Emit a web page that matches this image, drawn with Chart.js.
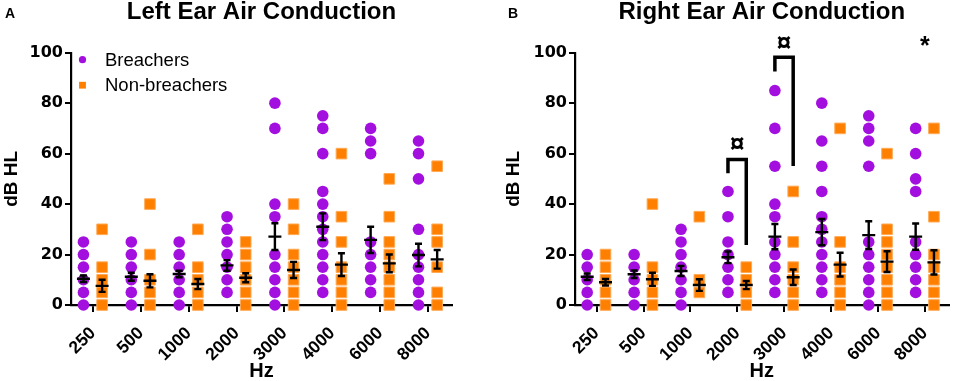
<!DOCTYPE html>
<html><head><meta charset="utf-8">
<script src="https://cdn.jsdelivr.net/npm/chart.js@4.4.1/dist/chart.umd.min.js"></script>
<style>
html,body{margin:0;padding:0;background:#fff;}
#wrap{position:relative;width:957px;height:381px;overflow:hidden;background:#fff;}
canvas{position:absolute;top:0;}
</style></head><body>
<div id="wrap">
<canvas id="cA" width="480" height="381" style="left:0px"></canvas>
<canvas id="cB" width="477" height="381" style="left:480px"></canvas>
</div>
<script>
// ---------- DATA ----------
const categories = ['250','500','1000','2000','3000','4000','6000','8000'];
const seriesNames = ['Breachers','Non-breachers'];
const panelTitles = ['Left Ear Air Conduction','Right Ear Air Conduction'];
const panelLetters = ['A','B'];
const yTicks = [0,20,40,60,80,100];

// Left ear - individual values (dB HL) per frequency
const leftBreachers = [
  [25,20,15,10,5,0],
  [25,20,15,10,5,0],
  [25,20,15,10,5,0],
  [35,30,25,20,15,10,5],
  [80,70,40,35,20,15,10,5,0],
  [75,70,60,45,40,35,30,25,20,15,10,5],
  [70,65,60,25,20,15,10,5],
  [65,60,50,30,20,15,10,5,0]
];
const leftBreachersMean = [10.4,11.2,12.3,15.7,27.1,31.0,25.8,19.8];
const leftBreachersSem  = [1.3,1.6,1.3,2.1,5.3,5.3,5.2,4.5];

const leftNonBreachers = [
  [30,15,10,5,0],
  [40,20,10,5,0],
  [30,15,10,5,0],
  [25,20,15,10,5,0],
  [40,30,20,15,10,5,0],
  [60,35,25,15,10,5,0],
  [50,35,25,20,15,10,5,0],
  [55,30,25,15,5,0]
];
const leftNonBreachersMean = [7.6,9.6,8.3,10.8,13.9,16.0,16.5,18.1];
const leftNonBreachersSem  = [2.4,2.6,2.0,1.8,3.2,4.5,3.5,3.7];

// Right ear
const rightBreachers = [
  [20,15,10,5,0],
  [20,15,10,5,0],
  [30,25,20,15,10,5,0],
  [45,35,25,20,15,10,5],
  [85,70,55,40,35,25,20,15,10,5],
  [80,65,55,45,35,30,25,20,15,10,5],
  [75,70,65,55,25,20,15,10,5,0],
  [70,60,50,45,25,20,15,10,5]
];
const rightBreachersMean = [11.2,12.2,13.5,18.9,27.1,28.9,27.7,27.1];
const rightBreachersSem  = [1.3,1.5,2.0,2.3,5.0,5.2,5.5,5.2];

const rightNonBreachers = [
  [20,15,10,5,0],
  [40,15,10,5,0],
  [35,10,5],
  [15,10,5,0],
  [45,25,15,10,5,0],
  [70,25,15,10,5,0],
  [60,30,25,20,15,10,5,0],
  [70,35,20,15,10,5,0]
];
const rightNonBreachersMean = [9.0,10.2,7.9,7.9,11.0,16.0,17.2,16.9];
const rightNonBreachersSem  = [1.3,2.6,2.3,1.6,3.1,4.7,4.1,4.8];

// Significance marks (right ear)
const sigCategory    = [3, 4, 7];
const sigSymbol      = ['¤','¤','*'];
const sigSymbolY     = [63.5, 103.5, 104];
const bracketTop     = [57.7, 98.2, null];
const bracketLeftEnd = [52.2, 92.5, null];
const bracketRightEnd= [23.8, 55.1, null];

// ---------- STYLE ----------
const PURPLE = '#A30FDF';
const ORANGE = '#FF7F00';
const ORANGE_EDGE = '#FFAA55';
const OFFSETS = [-0.2, 0.19];
const FONT = "'Liberation Sans', Arial, sans-serif";
const TICKFONT = "'DejaVu Sans', 'Liberation Sans', sans-serif";

function toPoints(groups, off) {
  const pts = [];
  groups.forEach((vals, i) => vals.forEach(v => pts.push({x: i + off, y: v})));
  return pts;
}

const errorBarPlugin = {
  id: 'errorBars',
  afterDatasetsDraw(chart) {
    const {ctx} = chart;
    const x = chart.scales.x, y = chart.scales.y;
    ctx.save();
    ctx.strokeStyle = '#000';
    ctx.lineWidth = 2.4;
    chart.data.datasets.forEach(ds => {
      ds.means.forEach((m, i) => {
        const px = x.getPixelForValue(i + ds.groupOffset);
        const pm = y.getPixelForValue(m);
        const pt = y.getPixelForValue(m + ds.sems[i]);
        const pb = y.getPixelForValue(m - ds.sems[i]);
        ctx.beginPath();
        ctx.moveTo(px, pt); ctx.lineTo(px, pb);
        ctx.moveTo(px - 6.5, pm); ctx.lineTo(px + 6.5, pm);
        ctx.moveTo(px - 3.5, pt); ctx.lineTo(px + 3.5, pt);
        ctx.moveTo(px - 3.5, pb); ctx.lineTo(px + 3.5, pb);
        ctx.stroke();
      });
    });
    ctx.restore();
  }
};

const extrasPlugin = {
  id: 'extras',
  afterDraw(chart, args, opts) {
    const {ctx, chartArea} = chart;
    const x = chart.scales.x, y = chart.scales.y;
    ctx.save();
    // panel letter
    ctx.fillStyle = '#000';
    ctx.font = 'bold 14px ' + FONT;
    ctx.textAlign = 'center';
    ctx.textBaseline = 'middle';
    ctx.fillText(opts.letter, opts.letterX, 14);
    // inner legend
    if (opts.legend) {
      chart.data.datasets.forEach((ds, i) => {
        const cy = chartArea.top + 7 + i * 25.5;
        const cx = chartArea.left + 11.5;
        ctx.fillStyle = ds.backgroundColor;
        ctx.beginPath();
        if (ds.pointStyle === 'circle') { ctx.arc(cx, cy, 3.6, 0, Math.PI * 2); }
        else { ctx.rect(cx - 3.4, cy - 3.4, 6.8, 6.8); }
        ctx.fill();
        ctx.fillStyle = '#000';
        ctx.font = '18.5px ' + FONT;
        ctx.textAlign = 'left';
        ctx.textBaseline = 'middle';
        ctx.fillText(ds.label, chartArea.left + 34, cy + 1);
      });
    }
    // significance brackets
    if (opts.sig) {
      ctx.strokeStyle = '#000';
      ctx.lineWidth = 3.5;
      ctx.lineJoin = 'miter';
      sigCategory.forEach((c, k) => {
        const xl = x.getPixelForValue(c + OFFSETS[0]);
        const xr = x.getPixelForValue(c + OFFSETS[1]);
        if (bracketTop[k] !== null) {
          ctx.beginPath();
          ctx.moveTo(xl, y.getPixelForValue(bracketLeftEnd[k]));
          ctx.lineTo(xl, y.getPixelForValue(bracketTop[k]));
          ctx.lineTo(xr, y.getPixelForValue(bracketTop[k]));
          ctx.lineTo(xr, y.getPixelForValue(bracketRightEnd[k]));
          ctx.stroke();
        }
        ctx.fillStyle = '#000';
        ctx.font = (sigSymbol[k] === '*' ? 'bold 25px ' : 'bold 26px ') + FONT;
        ctx.textAlign = 'center';
        ctx.textBaseline = 'middle';
        const dy = sigSymbol[k] === '*' ? 5 : 0;
        ctx.fillText(sigSymbol[k], (xl + xr) / 2, y.getPixelForValue(sigSymbolY[k]) + dy);
      });
    }
    ctx.restore();
  }
};

function makeChart(id, idx, bData, bMean, bSem, nData, nMean, nSem, pad, yWidth, extras) {
  return new Chart(document.getElementById(id), {
    type: 'scatter',
    data: {
      datasets: [
        {
          label: seriesNames[0], data: toPoints(bData, OFFSETS[0]),
          means: bMean, sems: bSem, groupOffset: OFFSETS[0],
          pointStyle: 'circle', radius: 5.8, backgroundColor: PURPLE,
          borderColor: PURPLE, borderWidth: 0, clip: false
        },
        {
          label: seriesNames[1], data: toPoints(nData, OFFSETS[1]),
          means: nMean, sems: nSem, groupOffset: OFFSETS[1],
          pointStyle: 'rect', radius: 7.5, backgroundColor: ORANGE,
          borderColor: ORANGE_EDGE, borderWidth: 1, clip: false
        }
      ]
    },
    options: {
      responsive: false, animation: false, devicePixelRatio: 1,
      layout: {padding: pad},
      plugins: {
        legend: {display: false},
        tooltip: {enabled: false},
        title: {
          display: true, text: panelTitles[idx], fullSize: false,
          color: '#000', font: {family: FONT, size: 24, weight: 'bold', lineHeight: 1.0},
          padding: {top: 0, bottom: 28.7}
        },
        extras: extras
      },
      scales: {
        x: {
          type: 'linear', min: -0.46, max: 7.5,
          afterBuildTicks: (s) => { s.ticks = categories.map((c, i) => ({value: i})); },
          afterFit: (s) => { s.height = 76; },
          ticks: {
            callback: (v) => categories[v] !== undefined ? categories[v] : '',
            minRotation: 45, maxRotation: 45, padding: 11,
            color: '#000', font: {family: FONT, size: 17.5, weight: 'bold'}
          },
          grid: {display: true, drawOnChartArea: false, drawTicks: true, tickLength: 7, color: '#000', lineWidth: 2},
          border: {display: true, color: '#000', width: 2.2},
          title: {display: true, text: 'Hz', color: '#000', font: {family: FONT, size: 20, weight: 'bold', lineHeight: 1.0}, padding: {top: 0, bottom: 0}}
        },
        y: {
          min: 0, max: 100,
          afterBuildTicks: (s) => { s.ticks = yTicks.map(v => ({value: v})); },
          afterFit: (s) => { s.width = yWidth; },
          ticks: {color: '#000', padding: 2, font: {family: TICKFONT, size: 16, weight: 'bold'}},
          grid: {display: true, drawOnChartArea: false, drawTicks: true, tickLength: 6, color: '#000', lineWidth: 2},
          border: {display: true, color: '#000', width: 2.2},
          title: {display: true, text: 'dB HL', color: '#000', font: {family: FONT, size: 19, weight: 'bold', lineHeight: 1.2}, padding: {top: 0, bottom: 0}}
        }
      }
    },
    plugins: [errorBarPlugin, extrasPlugin]
  });
}

makeChart('cA', 0, leftBreachers, leftBreachersMean, leftBreachersSem,
  leftNonBreachers, leftNonBreachersMean, leftNonBreachersSem,
  {left: 0, right: 28, top: 0, bottom: 0}, 71,
  {letter: panelLetters[0], letterX: 10, legend: true, sig: false});

makeChart('cB', 1, rightBreachers, rightBreachersMean, rightBreachersSem,
  rightNonBreachers, rightNonBreachersMean, rightNonBreachersSem,
  {left: 22, right: 2, top: 0, bottom: 0}, 73,
  {letter: panelLetters[1], letterX: 33, legend: false, sig: true});
</script>
</body></html>
